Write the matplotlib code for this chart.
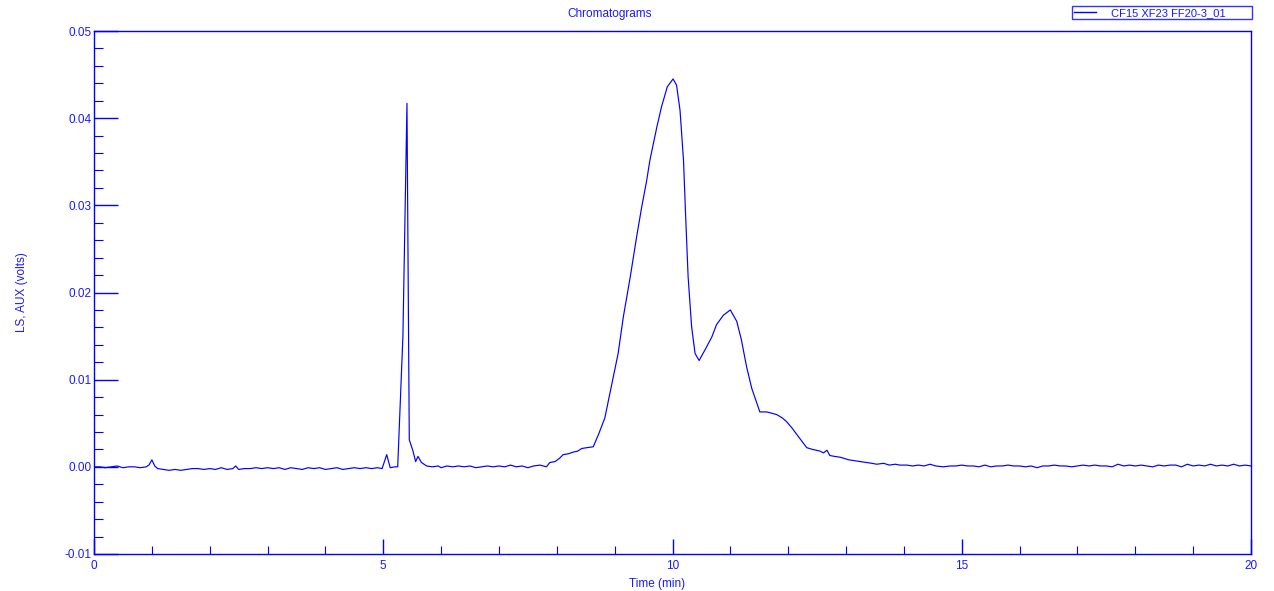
import matplotlib.pyplot as plt
from matplotlib.ticker import MultipleLocator

plt.rcParams['font.family'] = ['Liberation Sans', 'DejaVu Sans']

BLUE = '#0000ff'
TEXT_BLUE = '#1a1aff'

sample_name = 'CF15 XF23 FF20-3_01'

# retention time (min) and detector signal (volts)
time_min = [
    0.0, 0.1, 0.2, 0.3, 0.4, 0.5, 0.6, 0.7, 0.8, 0.9,
    0.95, 1.0, 1.05, 1.1, 1.2, 1.3, 1.4, 1.5, 1.6, 1.7, 1.8, 1.9,
    2.0, 2.1, 2.2, 2.3, 2.4, 2.45, 2.5, 2.6, 2.7, 2.8, 2.9,
    3.0, 3.1, 3.2, 3.3, 3.4, 3.5, 3.6, 3.7, 3.8, 3.9,
    4.0, 4.1, 4.2, 4.3, 4.4, 4.5, 4.6, 4.7, 4.8, 4.9, 4.98,
    5.06, 5.12, 5.2, 5.25, 5.34, 5.41, 5.45, 5.51, 5.56, 5.6, 5.66,
    5.75, 5.85, 5.95, 6.0, 6.1, 6.2, 6.3, 6.4, 6.5, 6.6, 6.7, 6.8, 6.9,
    7.0, 7.1, 7.2, 7.3, 7.4, 7.5, 7.6, 7.71, 7.82, 7.88, 7.97,
    8.05, 8.11, 8.2, 8.29, 8.36, 8.43, 8.52, 8.63, 8.72, 8.83, 8.92, 9.06, 9.15, 9.27,
    9.38, 9.47, 9.55, 9.61, 9.73, 9.81, 9.91, 10.01, 10.07, 10.13,
    10.19, 10.23, 10.27, 10.33, 10.39, 10.46, 10.56, 10.68, 10.76, 10.88,
    11.0, 11.11, 11.19, 11.28, 11.37, 11.51, 11.63, 11.8, 11.9, 11.97, 12.06, 12.15,
    12.24, 12.32, 12.42, 12.49, 12.55, 12.61, 12.67, 12.72, 12.8, 12.9,
    13.05, 13.15, 13.24, 13.35, 13.45, 13.53, 13.65, 13.75, 13.85, 13.93,
    14.05, 14.15, 14.25, 14.35, 14.45, 14.55, 14.68, 14.8, 14.9,
    15.0, 15.1, 15.2, 15.3, 15.4, 15.5, 15.6, 15.7, 15.8, 15.9,
    16.0, 16.1, 16.2, 16.3, 16.4, 16.5, 16.6, 16.7, 16.8, 16.9,
    17.0, 17.1, 17.2, 17.3, 17.4, 17.5, 17.6, 17.7, 17.8, 17.9,
    18.0, 18.1, 18.2, 18.3, 18.4, 18.5, 18.6, 18.7, 18.8, 18.9,
    19.0, 19.1, 19.2, 19.3, 19.4, 19.5, 19.6, 19.7, 19.8, 19.9, 20.0,
]
signal_v = [
    0.0000, 0.0000, -0.0001, 0.0000, 0.0001, -0.0001, 0.0000, 0.0000, -0.0001, 0.0000,
    0.0002, 0.0008, 0.0001, -0.0002, -0.0003, -0.0004, -0.0003, -0.0004, -0.0003, -0.0002, -0.0002, -0.0003,
    -0.0002, -0.0003, -0.0001, -0.0003, -0.0002, 0.0001, -0.0003, -0.0002, -0.0002, -0.0001, -0.0002,
    -0.0001, -0.0002, -0.0001, -0.0003, -0.0001, -0.0002, -0.0003, -0.0001, -0.0002, -0.0001,
    -0.0003, -0.0002, -0.0001, -0.0003, -0.0002, -0.0001, -0.0002, -0.0001, -0.0002, -0.0001, -0.0002,
    0.0014, -0.0001, 0.0000, 0.0000, 0.0150, 0.0417, 0.0031, 0.0019, 0.0006, 0.0012, 0.0005,
    0.0001, 0.0000, 0.0001, -0.0001, 0.0001, 0.0000, 0.0001, 0.0000, 0.0001, -0.0001, 0.0000, 0.0001, 0.0000,
    0.0001, 0.0000, 0.0002, 0.0000, 0.0001, -0.0001, 0.0001, 0.0002, 0.0000, 0.0005, 0.0006,
    0.0010, 0.0014, 0.0015, 0.0017, 0.0018, 0.0021, 0.0022, 0.0023, 0.0037, 0.0056, 0.0085, 0.0130, 0.0172, 0.0218,
    0.0264, 0.0299, 0.0327, 0.0352, 0.0390, 0.0413, 0.0436, 0.0445, 0.0438, 0.0409,
    0.0352, 0.0283, 0.0218, 0.0161, 0.0130, 0.0122, 0.0134, 0.0149, 0.0163, 0.0174,
    0.0180, 0.0167, 0.0146, 0.0115, 0.0090, 0.0063, 0.0063, 0.0060, 0.0056, 0.0052, 0.0045, 0.0037,
    0.0029, 0.0022, 0.0020, 0.0019, 0.0018, 0.0016, 0.0019, 0.0013, 0.0012, 0.0011,
    0.0008, 0.0007, 0.0006, 0.0005, 0.0004, 0.0003, 0.0004, 0.0002, 0.0003, 0.0002,
    0.0002, 0.0001, 0.0002, 0.0001, 0.0003, 0.0001, 0.0000, 0.0001, 0.0001,
    0.0002, 0.0001, 0.0001, 0.0000, 0.0002, 0.0000, 0.0001, 0.0001, 0.0002, 0.0001,
    0.0001, 0.0000, 0.0001, -0.0001, 0.0001, 0.0001, 0.0002, 0.0001, 0.0001, 0.0000,
    0.0001, 0.0002, 0.0001, 0.0002, 0.0001, 0.0001, 0.0000, 0.0003, 0.0001, 0.0002,
    0.0001, 0.0002, 0.0001, 0.0000, 0.0002, 0.0001, 0.0002, 0.0002, 0.0000, 0.0003,
    0.0001, 0.0002, 0.0001, 0.0003, 0.0001, 0.0002, 0.0001, 0.0003, 0.0001, 0.0002, 0.0001,
]

fig = plt.figure(figsize=(12.74, 5.91), dpi=100)
ax = fig.add_axes([94 / 1274, 1 - 554 / 591, (1251 - 94) / 1274, (554 - 31) / 591])

line, = ax.plot(time_min, signal_v, color=BLUE, lw=0.85, label=sample_name)

ax.set_xlim(0, 20)
ax.set_ylim(-0.01, 0.05)
ax.xaxis.set_major_locator(MultipleLocator(5))
ax.xaxis.set_minor_locator(MultipleLocator(1))
ax.yaxis.set_major_locator(MultipleLocator(0.01))
ax.yaxis.set_minor_locator(MultipleLocator(0.002))
ax.xaxis.set_major_formatter(lambda v, p: f'{v:g}')
ax.yaxis.set_major_formatter(lambda v, p: f'{v:.2f}')

for s in ax.spines.values():
    s.set_color(BLUE)
    s.set_linewidth(1.0)

ax.tick_params(axis='both', which='both', direction='in', colors=BLUE,
               labelcolor=TEXT_BLUE, labelsize=8.5, top=False, right=False)
ax.tick_params(axis='x', which='major', length=11, width=1.0, pad=4)
ax.tick_params(axis='x', which='minor', length=6, width=0.8)
ax.tick_params(axis='y', which='major', length=17, width=1.0, pad=1.5)
ax.tick_params(axis='y', which='minor', length=6.5, width=0.8)

ax.set_xlabel('Time (min)', color=TEXT_BLUE, fontsize=8.5)
ax.xaxis.set_label_coords((657 - 94) / 1157, -0.046)
ax.set_ylabel('LS, AUX (volts)', color=TEXT_BLUE, fontsize=8.5)
ax.yaxis.set_label_coords(-0.057, 0.5)

fig.text(610 / 1274, 1 - 14 / 591, 'Chromatograms', color=TEXT_BLUE,
         fontsize=8.5, ha='center', va='center')

leg = fig.legend(handles=[line], loc='upper left', mode='expand',
                 bbox_to_anchor=(1072 / 1274, 1 - 22 / 591, 180 / 1274, 16 / 591),
                 fontsize=8, fancybox=False, borderpad=0.15, handlelength=2.0,
                 handletextpad=1.4, borderaxespad=0)
leg.get_frame().set_edgecolor(BLUE)
leg.get_frame().set_linewidth(1.0)
leg.get_lines()[0].set_linewidth(1.0)
for t in leg.get_texts():
    t.set_color(TEXT_BLUE)

fig.savefig('out.png', dpi=100)
